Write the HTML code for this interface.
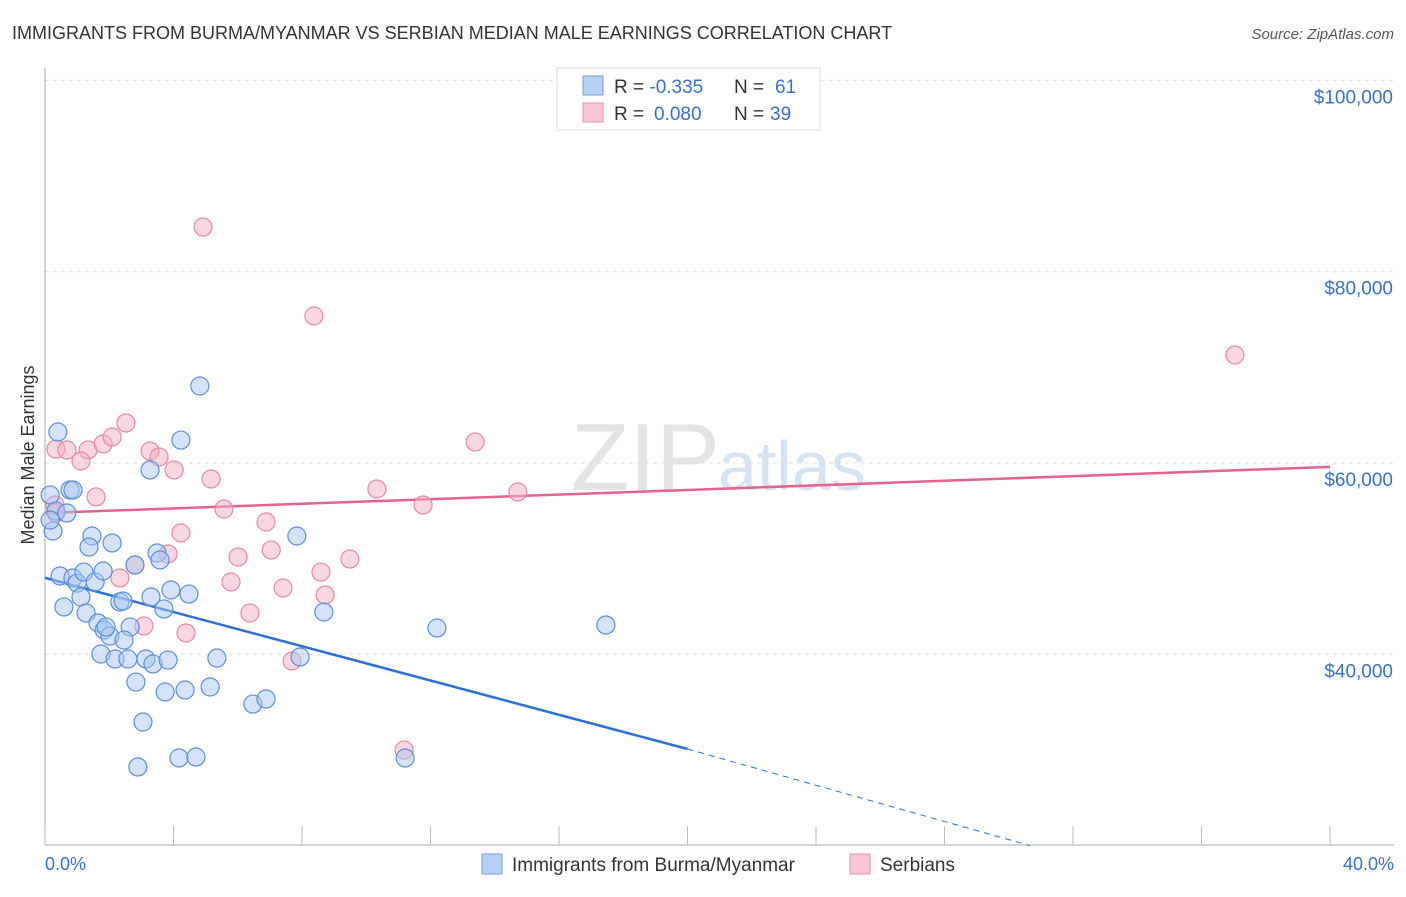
<!DOCTYPE html>
<html><head><meta charset="utf-8"><style>
body{margin:0;background:#fff;font-family:"Liberation Sans",sans-serif;}
svg text{font-family:"Liberation Sans",sans-serif;}
</style></head><body>
<svg id="chart" width="1406" height="892">
<text x="12" y="39" font-size="18" fill="#333">IMMIGRANTS FROM BURMA/MYANMAR VS SERBIAN MEDIAN MALE EARNINGS CORRELATION CHART</text>
<text x="1394" y="39" font-size="15" fill="#555" font-style="italic" text-anchor="end">Source: ZipAtlas.com</text>
<text x="720" y="490" font-size="96" fill="#e4e4e4" font-family="Liberation Serif" text-anchor="end">ZIP</text>
<text x="718" y="490" font-size="70" fill="#d5e3f3">atlas</text>
<g id="grid"></g><g id="axes"></g><g id="trends"></g><g id="points"></g>
<text transform="translate(34,455) rotate(-90)" font-size="18" fill="#333" text-anchor="middle">Median Male Earnings</text>
<text x="45" y="870" font-size="18" fill="#3a6fc9">0.0%</text>
<text x="1394" y="870" font-size="18" fill="#3a6fc9" text-anchor="end">40.0%</text>
<g>
<rect x="482" y="854" width="20" height="20" fill="#b6d0f2" stroke="#6f9ee0"/>
<text x="512" y="871" font-size="19" fill="#333">Immigrants from Burma/Myanmar</text>
<rect x="850" y="854" width="20" height="20" fill="#f8c6d4" stroke="#e891ab"/>
<text x="880" y="871" font-size="19" fill="#333">Serbians</text>
</g>
<g>
<rect x="557" y="68" width="263" height="62" fill="#fff" stroke="#ddd"/>
<rect x="583" y="76" width="20" height="19" fill="#b6d0f2" stroke="#6f9ee0"/>
<rect x="583" y="103" width="20" height="19" fill="#f8c6d4" stroke="#e891ab"/>
<text x="614" y="93" font-size="19" fill="#333">R = <tspan fill="#3a6fc9">-0.335</tspan><tspan x="734">N = </tspan><tspan fill="#3a6fc9" x="775">61</tspan></text>
<text x="614" y="120" font-size="19" fill="#333">R = <tspan fill="#3a6fc9" x="654">0.080</tspan><tspan x="734">N = </tspan><tspan fill="#3a6fc9" x="770">39</tspan></text>
</g>
</svg>
<script>
const yTicks=[40000,60000,80000,100000];
const yTickLabels=["$40,000","$60,000","$80,000","$100,000"];
const xTicks=[0,4,8,12,16,20,24,28,32,36,40];
const burmaX=[0.40,0.78,0.87,0.16,0.34,0.68,0.25,0.16,1.46,1.37,2.09,0.47,0.87,1.00,1.21,1.56,1.81,0.59,1.12,1.28,1.65,1.84,2.02,1.90,2.33,2.43,2.65,2.46,1.74,2.18,2.58,3.14,3.36,3.83,3.49,3.58,3.92,3.30,3.70,4.48,2.80,3.27,4.23,4.82,7.84,8.68,5.35,2.83,3.74,4.36,5.14,6.47,6.88,3.05,2.89,4.17,4.70,7.94,12.20,17.46,11.21];
const burmaY=[63240,57180,57180,56660,54980,54770,52890,54040,52370,51220,51640,48190,47980,47450,48600,47560,48710,44950,45990,44320,43270,42540,41910,42850,45470,45570,42850,41490,40030,39510,39510,39510,38990,39400,50590,49860,46720,45990,44740,46300,49340,59270,62400,68050,52370,44420,39610,37100,36060,36270,36580,34800,35330,32920,28220,29160,29260,39720,42750,43060,29160];
const serbX=[0.34,0.68,1.34,1.81,2.09,2.52,3.27,3.55,1.12,4.02,5.17,1.59,0.34,0.31,5.57,6.88,4.23,3.83,6.01,7.04,2.80,2.33,5.79,8.59,9.49,7.41,8.72,6.38,3.08,4.39,7.69,4.92,8.37,13.39,10.33,11.77,14.72,37.04,11.18];
const serbY=[61460,61360,61360,61990,62720,64180,61250,60630,60210,59270,58330,56450,54770,55610,55190,53830,52680,50490,50170,50900,49340,47980,47560,48600,49960,46930,46200,44320,42960,42230,39300,84670,75370,62200,57280,55610,56970,71290,29990];
const burmaTrend=[[0,48000],[20,30100]];
const burmaTrendExt=[[20,30100],[30.66,20000]];
const serbTrend=[[0,54770],[40,59590]];
const NS="http://www.w3.org/2000/svg";
const xs=v=>45+v/40*1285;
const ys=v=>463-(v-60000)*0.009565;
function mk(tag,attrs,parent){const e=document.createElementNS(NS,tag);for(const k in attrs)e.setAttribute(k,attrs[k]);document.getElementById(parent).appendChild(e);return e;}
yTicks.forEach((t,i)=>{
 const l=mk('line',{x1:45,x2:1394,y1:ys(t),y2:ys(t),stroke:'#ddd','stroke-dasharray':'4,4'},'grid');
 
 
 const tx=mk('text',{x:1393,y:ys(t)+23,'font-size':19,fill:'#3a6fc9','text-anchor':'end'},'grid');
 tx.textContent=yTickLabels[i];
 
 
});
const ax=mk('line',{x1:45,x2:1394,y1:845,y2:845,stroke:'#aaa'},'axes');


const ay=mk('line',{x1:45,x2:45,y1:68,y2:845,stroke:'#aaa'},'axes');


xTicks.forEach(t=>{
 const l=mk('line',{x1:xs(t),x2:xs(t),y1:826,y2:845,stroke:'#bbb'},'axes');
 
 
});
function pts(xa,ya,fill,stroke,name){
 xa.forEach((x,i)=>{
  const c=mk('circle',{cx:xs(x),cy:ys(ya[i]),r:9,fill:fill,'fill-opacity':0.5,stroke:stroke,'stroke-width':1.2},'points');
  
  
 });
}
pts(serbX,serbY,'#f4b0c4','#e68aa6','serbian-point');
pts(burmaX,burmaY,'#a9c8f0','#5b8fd9','burma-point');
function line(p,stroke,w,dash,name){
 const l=mk('line',{x1:xs(p[0][0]),y1:ys(p[0][1]),x2:xs(p[1][0]),y2:ys(p[1][1]),stroke:stroke,'stroke-width':w},'trends');
 if(dash)l.setAttribute('stroke-dasharray',dash);
 
 
}
line(burmaTrend,'#2a6fd6',2.5,null,'burma-trendline');
line(burmaTrendExt,'#2a6fd6',1,'6,5','burma-trendline-extension');
line(serbTrend,'#e4628b',2.5,null,'serbian-trendline');
</script>
</body></html>
